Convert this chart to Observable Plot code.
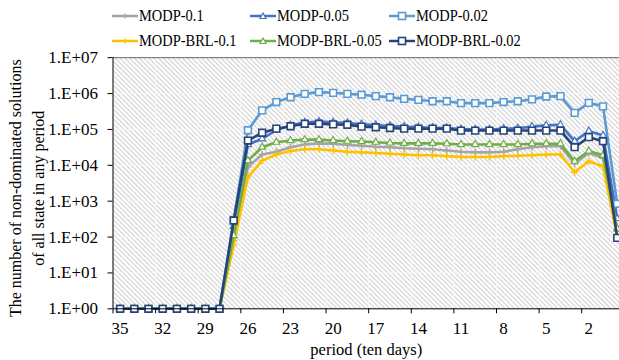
<!DOCTYPE html>
<html><head><meta charset="utf-8">
<script src="https://cdn.jsdelivr.net/npm/d3@7"></script>
<script src="https://cdn.jsdelivr.net/npm/@observablehq/plot@0.6"></script>
<style>
body{margin:0;background:#fff;font-family:"Liberation Serif","Times New Roman",serif;}
#wrap{position:relative;width:619px;height:360px;overflow:hidden}
#legend{position:relative;height:40px;}
.item{position:absolute;display:flex;align-items:center;white-space:nowrap;height:20px;}
.item span{font-size:17px;display:inline-block;transform:scaleX(0.85);transform-origin:left center;margin-left:1px;color:#000}
</style></head><body>
<svg width="0" height="0" style="position:absolute"><defs>
<pattern id="hatch" width="3.4" height="3.4" patternUnits="userSpaceOnUse" patternTransform="rotate(-45)">
<rect width="3.4" height="3.4" fill="#ffffff"/>
<line x1="0.6" y1="0" x2="0.6" y2="3.4" stroke="#cbcbcb" stroke-width="1"/>
</pattern></defs></svg>
<div id="wrap"><div id="legend"></div><div id="chart"></div></div>
<script>
// ---- data ----
const periods = [35,34,33,32,31,30,29,28,27,26,25,24,23,22,21,20,19,18,17,16,15,14,13,12,11,10,9,8,7,6,5,4,3,2,1,0];
const seriesNames = ["MODP-0.1","MODP-0.05","MODP-0.02","MODP-BRL-0.1","MODP-BRL-0.05","MODP-BRL-0.02"];
const modp01  = [1,1,1,1,1,1,1,1, 80, 9000,20000,24000,32000,38000,41000,40000,37000,35000,33000,32000,30000,29000,28000,26000,24000,23000,23000,24000,28000,32000,34000,34000,11000,22000,16000,150];
const modp005 = [1,1,1,1,1,1,1,1, 200, 38000,55000,95000,130000,155000,165000,158000,150000,140000,132000,125000,120000,115000,112000,110000,102000,100000,100000,105000,108000,120000,130000,135000,47000,90000,68000,330];
const modp002 = [1,1,1,1,1,1,1,1, 300, 95000,340000,580000,790000,980000,1100000,1050000,980000,930000,850000,790000,710000,670000,610000,610000,540000,540000,540000,580000,610000,690000,830000,850000,290000,550000,440000,850];
const brl01   = [1,1,1,1,1,1,1,1, 60, 4700,13500,20000,25000,28000,28000,26000,24000,23000,22000,21000,20000,19000,19000,18000,17000,17000,17000,18000,18500,19000,20000,20000,6400,13000,9300,100];
const brl005  = [1,1,1,1,1,1,1,1, 110, 13500,32000,44000,49000,52000,52000,49000,47000,46000,44000,42000,41000,41000,41000,40000,38000,38000,38000,38000,38000,40000,40000,40000,13000,25000,19000,170];
const brl002  = [1,1,1,1,1,1,1,1, 290, 49000,81000,105000,123000,144000,144000,138000,135000,120000,115000,110000,105000,105000,105000,105000,93000,93000,93000,93000,93000,93000,93000,93000,32000,61000,47000,95];
const yTicks = [1,10,100,1e3,1e4,1e5,1e6,1e7];
const xLabels = [35,32,29,26,23,20,17,14,11,8,5,2];
const xTickMarks = [35.5,32.5,29.5,26.5,23.5,20.5,17.5,14.5,11.5,8.5,5.5,2.5];
const yTitle = "The number of non-dominated solutions\nof all state in any period";
const xTitle = "period (ten days)";

const colors = ["#A5A5A5","#4472C4","#5B9BD5","#FFC000","#70AD47","#264478"];
const symbols = ["plus","triangle","square","plus","triangle","square"];
const allValues = [modp01, modp005, modp002, brl01, brl005, brl002];

const series = seriesNames.map((name,k)=>({name, color:colors[k], symbol:symbols[k],
  rows: periods.map((p,i)=>({period:p, value:allValues[k][i]}))}));

// ---- legend ----
const legendPos = [[112,6],[250,6],[389,6],[112,31],[250,31],[389,31]];
const legend = document.getElementById("legend");
series.forEach((s,k)=>{
  const d = document.createElement("div");
  d.className="item";
  d.style.left = legendPos[k][0]+"px"; d.style.top = legendPos[k][1]+"px";
  let mk = "";
  if (s.symbol==="square") mk = `<rect x="9.5" y="3.5" width="7" height="7" fill="#fff" stroke="${s.color}" stroke-width="1.6"/>`;
  else if (s.symbol==="triangle") mk = `<path d="M13,4 L16,9.5 L10,9.5 Z" fill="#fff" stroke="${s.color}" stroke-width="1.2"/>`;
  else mk = `<path d="M13,4.5 L13,9.5 M10.5,7 L15.5,7" stroke="${s.color}" stroke-width="1.4"/>`;
  d.innerHTML = `<svg width="26" height="14"><line x1="0" y1="7" x2="26" y2="7" stroke="${s.color}" stroke-width="2.5"/>${mk}</svg><span>${s.name}</span>`;
  legend.appendChild(d);
});

// ---- chart ----
const marks = [
  Plot.frame({fill:"url(#hatch)"}),
  Plot.gridY(yTicks, {stroke:"#f6f6f6", strokeOpacity:0.9, strokeWidth:1}),
  Plot.gridX(xTickMarks, {stroke:"#f6f6f6", strokeOpacity:0.9, strokeWidth:1}),
  Plot.ruleY([1e7], {stroke:"#666", strokeWidth:1})
];
series.forEach(s=>{
  marks.push(Plot.line(s.rows, {x:"period", y:"value", stroke:s.color, strokeWidth:2.6}));
  if (s.symbol==="square")
    marks.push(Plot.dot(s.rows, {x:"period", y:"value", symbol:"square", r:3.8, fill:"#fff", stroke:s.color, strokeWidth:1.6}));
  else if (s.symbol==="triangle")
    marks.push(Plot.dot(s.rows, {x:"period", y:"value", symbol:"triangle", r:2.6, fill:"#fff", stroke:s.color, strokeWidth:1.2}));
  else
    marks.push(Plot.dot(s.rows, {x:"period", y:"value", symbol:"plus", r:2.4, stroke:s.color, strokeWidth:1.4}));
});
marks.push(
  Plot.ruleY([1], {stroke:"#000", strokeWidth:1}),
  Plot.ruleX([35.5], {stroke:"#000", strokeWidth:1}),
  Plot.axisY({ticks:yTicks, tickSize:5, tickPadding:10, label:null, anchor:"left",
    tickFormat:d=>"1.E+"+String(Math.round(Math.log10(d))).padStart(2,"0")}),
  Plot.axisX({ticks:xTickMarks, tickSize:5, tickFormat:()=>"", label:null, anchor:"bottom"}),
  Plot.axisX({ticks:xLabels, tickSize:0, tickPadding:13, label:null, anchor:"bottom"}),
  Plot.text([yTitle], {text:d=>d, frameAnchor:"left", textAnchor:"middle", lineAnchor:"middle", rotate:-90, dx:-88, dy:5, lineHeight:1.45, fontSize:16}),
  Plot.text([xTitle], {text:d=>d, frameAnchor:"bottom", textAnchor:"middle", lineAnchor:"middle", dy:41, fontSize:16.5})
);

const chart = Plot.plot({
  width:619, height:320,
  marginLeft:112.5, marginRight:0, marginTop:17.2, marginBottom:51.7,
  x:{type:"linear", domain:[35.5,-0.16]},
  y:{type:"log", domain:[1,1e7]},
  style:{fontFamily:"Liberation Serif, Times New Roman, serif", fontSize:"17px", color:"#000", background:"transparent"},
  marks
});
document.getElementById("chart").appendChild(chart);
</script>
</body></html>
